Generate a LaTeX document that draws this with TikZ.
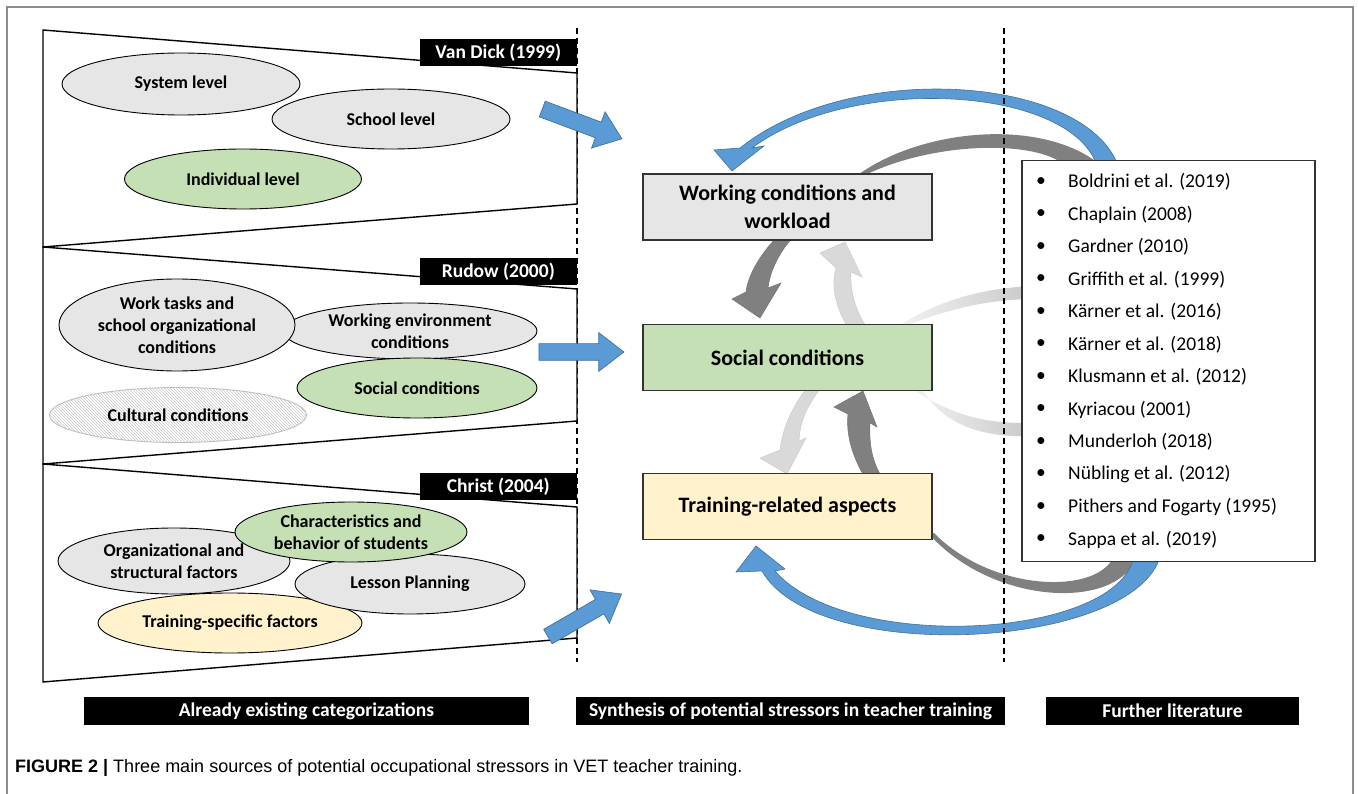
\documentclass[tikz,border=0pt]{standalone}
\usepackage{fontspec}
\setmainfont{Carlito}
\newfontfamily\capfont{Liberation Sans}
\usetikzlibrary{shapes,arrows,calc,positioning,shapes.geometric,shapes.arrows,patterns}
\definecolor{ellgray}{HTML}{E7E6E6}
\definecolor{ellgreen}{HTML}{C5E0B4}
\definecolor{ellyellow}{HTML}{FFF2CC}
\definecolor{arrblue}{HTML}{5B9BD5}
\definecolor{arrblueedge}{HTML}{41719C}
\definecolor{arrdark}{HTML}{808080}
\definecolor{arrlight}{HTML}{D9D9D9}
\definecolor{framegray}{HTML}{8C8C8C}
\tikzset{
  stressor/.style={
    ellipse,
    draw=black, line width=0.9pt,
    fill=ellgray,
    inner sep=0pt,
    align=center,
    font=\fontsize{18}{22}\selectfont\bfseries},
  greenell/.style={stressor, fill=ellgreen},
  yellowell/.style={stressor, fill=ellyellow},
  hatchell/.style={stressor, draw=gray!50, fill=none,
    pattern=north west lines, pattern color=gray!45},
  author/.style={
    fill=black, text=white,
    inner sep=0pt,
    minimum width=157pt, minimum height=27pt,
    font=\fontsize{19.5}{22}\selectfont\bfseries},
  colhead/.style={
    fill=black, text=white,
    inner sep=0pt,
    minimum height=28pt,
    font=\fontsize{19.5}{22}\selectfont\bfseries},
}

\begin{document}
\begin{tikzpicture}[
    x=1pt, y=-1pt,
    trap/.style={draw=black, line width=1.4pt},
    colline/.style={line width=1.2pt, dash pattern=on 6pt off 4pt},
    synbox/.style={rectangle, draw=black!80, line width=1.4pt,
      minimum width=289pt, minimum height=66pt, align=center,
      font=\fontsize{22}{28}\selectfont\bfseries},
    bluearrow/.style={single arrow, draw=arrblueedge, line width=0.7pt,
      fill=arrblue, inner sep=8pt,
      single arrow head extend=11pt, single arrow tip angle=75,
      minimum height=85pt},
    darkarr/.style={fill=arrdark, draw=black!55, line width=0.5pt},
    lightarr/.style={fill=arrlight, draw=gray!40, line width=0.5pt},
    blueband/.style={fill=arrblue, draw=arrblueedge, line width=0.6pt},
    litem/.style={anchor=west, inner sep=0pt, font=\fontsize{19.5}{22}\selectfont}
    ]
    \useasboundingbox (0,0) rectangle (1358,794);

    %frame
    \draw[framegray, line width=1.5pt] (7,794) -- (7,7) -- (1353,7) -- (1353,794);

    %columns
    \draw[colline] (577,28) -- (577,662);

    %categorizations
    \draw[trap, fill=white] (43,30) -- (577,73) -- (577,204) -- (43,247) -- cycle;
    \draw[trap, fill=white] (43,247) -- (577,289) -- (577,421) -- (43,464) -- cycle;
    \draw[trap, fill=white] (43,464) -- (577,507) -- (577,638) -- (43,682) -- cycle;

    \node[author, anchor=north east] (vandick) at (577,39) {Van Dick (1999)};
    \node[author, anchor=north east] (rudow) at (577,258) {Rudow (2000)};
    \node[author, anchor=north east] (christ) at (577,473) {Christ (2004)};

    \node[stressor, minimum width=238pt, minimum height=62pt] (system) at (181,84) {System level};
    \node[stressor, minimum width=238pt, minimum height=60pt] (school) at (391,119) {School level};
    \node[greenell, minimum width=237pt, minimum height=60pt] (individual) at (243,179) {Individual level};

    \node[stressor, minimum width=254pt, minimum height=56pt] (workenv) at (410,331) {Working environment\\conditions};
    \node[stressor, minimum width=236pt, minimum height=92pt] (worktasks) at (177,325) {Work tasks and\\school organizational\\conditions};
    \node[greenell, minimum width=240pt, minimum height=60pt] (socialell) at (417,388) {Social conditions};
    \node[hatchell, minimum width=257pt, minimum height=55pt] (cultural) at (178,415) {Cultural conditions};

    \node[stressor, minimum width=232pt, minimum height=66pt] (orgstruct) at (174,561) {Organizational and\\structural factors};
    \node[yellowell, minimum width=264pt, minimum height=60pt] (trainspec) at (230,623) {Training-specific factors};
    \node[stressor, minimum width=230pt, minimum height=60pt] (lesson) at (410,584) {Lesson Planning};
    \node[greenell, minimum width=232pt, minimum height=60pt] (charact) at (351,532) {Characteristics and\\behavior of students};

    %transfer arrows
    \node[bluearrow, rotate=-20.5] (arrvd) at (577,122) {};
    \node[bluearrow] (arrru) at (576,352) {};
    \node[bluearrow, rotate=30] (arrch) at (580,618) {};

    %literature arcs
    \fill[darkarr, draw=none] (855,177) .. controls (920,128) and (1040,118) .. (1098,163)
      -- (1062,163) .. controls (1030,140) and (930,142) .. (861,177) -- cycle;
    \fill[blueband] (1117,163) .. controls (1080,75) and (850,60) .. (740,148)
      -- (714,150) -- (732,171) -- (764,146) -- (752,148)
      .. controls (850,75) and (1065,85) .. (1096,163) -- cycle;
    \shade[left color=gray!10, right color=gray!42] (898,326) .. controls (940,300) and (980,289) .. (1030,286)
      -- (1030,299) .. controls (985,300) and (945,310) .. (906,326) -- cycle;
    \shade[left color=gray!10, right color=gray!42] (912,389) .. controls (945,410) and (975,424) .. (1030,423)
      -- (1030,436) .. controls (975,438) and (940,420) .. (922,389) -- cycle;
    \fill[darkarr, draw=none] (930,535) .. controls (990,602) and (1110,612) .. (1136,560)
      -- (1112,560) .. controls (1090,595) and (990,590) .. (934,533) -- cycle;
    \fill[blueband] (762,571) .. controls (815,665) and (1125,650) .. (1159,560)
      -- (1133,560) .. controls (1110,640) and (845,652) .. (775,571)
      -- (785,569) -- (756,546) -- (736,572) -- cycle;

    %exchange arrows
    \draw[darkarr] (776,238) .. controls (760,255) and (748,275) .. (746,292) -- (732,299) -- (760,318)
      -- (781,283) -- (768,288) .. controls (770,270) and (780,252) .. (792,238) -- cycle;
    \draw[lightarr] (847,326) .. controls (835,305) and (831,285) .. (836,268) -- (820,253) -- (845,242)
      -- (862,277) -- (851,272) .. controls (850,290) and (855,310) .. (866,326) -- cycle;
    \draw[lightarr] (806,389) .. controls (794,405) and (783,425) .. (780,450) -- (760,458) -- (787,474)
      -- (806,438) -- (799,441) .. controls (800,420) and (808,405) .. (820,389) -- cycle;
    \draw[darkarr] (864,476) .. controls (852,455) and (846,435) .. (848,414) -- (834,407) -- (863,391)
      -- (877,427) -- (870,423) .. controls (869,445) and (872,460) .. (881,476) -- cycle;

    \draw[colline] (1004,28) -- (1004,662);

    %synthesis
    \node[synbox, fill=ellgray] (work) at (787.5,207) {Working conditions and\\workload};
    \node[synbox, fill=ellgreen] (social) at (787.5,357.5) {Social conditions};
    \node[synbox, fill=ellyellow] (training) at (787.5,506.5) {Training-related aspects};

    %further literature
    \node[draw=black!80, line width=1.2pt, fill=white, minimum width=293pt, minimum height=401pt,
      inner sep=0pt] (litbox) at (1168.5,361) {};
    \foreach \lit [count=\i from 0] in {Boldrini et al. (2019), Chaplain (2008), Gardner (2010),
        Griffith et al. (1999), Kärner et al. (2016), Kärner et al. (2018), Klusmann et al. (2012),
        Kyriacou (2001), Munderloh (2018), Nübling et al. (2012), Pithers and Fogarty (1995),
        Sappa et al. (2019)} {
      \node[inner sep=0pt, font=\fontsize{19.5}{22}\selectfont] (bul\i) at (1041,{182+32.5*\i}) {\textbullet};
      \node[litem] (lit\i) at (1068,{182+32.5*\i}) {\lit};
    }

    %column names
    \node[colhead, minimum width=445pt] (hexist) at (306.5,711) {Already existing categorizations};
    \node[colhead, minimum width=429pt] (hsyn) at (790.5,711) {Synthesis of potential stressors in teacher training};
    \node[colhead, minimum width=253pt] (hlit) at (1172.5,711) {Further literature};

    %caption
    \node[anchor=base west, inner sep=0pt, font=\capfont\fontsize{18}{21}\selectfont] (caption) at (15,772)
      {\textbf{FIGURE 2 |} Three main sources of potential occupational stressors in VET teacher training.};
\end{tikzpicture}
\end{document}
